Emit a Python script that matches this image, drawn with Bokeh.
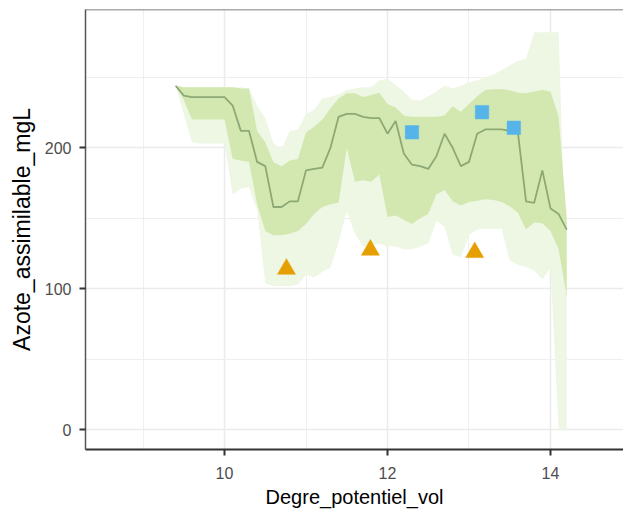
from bokeh.plotting import figure
from bokeh.models import FixedTicker, Span, Range1d
from bokeh.embed import file_html
from bokeh.resources import INLINE

# Rolling summary along Degre_potentiel_vol
x = [9.4, 9.5, 9.6, 9.7, 9.8, 9.9, 10.0, 10.1, 10.2, 10.3, 10.4, 10.5, 10.6, 10.7, 10.8, 10.9,
     11.0, 11.1, 11.2, 11.3, 11.4, 11.5, 11.6, 11.7, 11.8, 11.9, 12.0, 12.1, 12.2, 12.3, 12.4,
     12.5, 12.6, 12.7, 12.8, 12.9, 13.0, 13.1, 13.2, 13.3, 13.4, 13.5, 13.6, 13.7, 13.8, 13.9,
     14.0, 14.1, 14.2]
median = [244, 237, 236, 236, 236, 236, 236, 230, 212, 212, 190, 187, 158, 158, 162, 162,
          184, 185, 186, 200, 222, 224, 224, 222, 221, 221, 210, 219, 196, 188, 187,
          185, 194, 210, 200, 187, 190, 210, 213, 213, 213, 212, 211, 162, 161, 184,
          157, 153, 142]
inner_lo = [244, 234, 220, 220, 220, 220, 220, 192, 191, 190, 160, 141, 138, 138, 139, 141,
            146, 153, 158, 160, 161, 200, 176, 177, 176, 181, 151, 152, 149, 146, 150,
            153, 167, 170, 162, 159, 161.5, 162.5, 163.5, 163, 161.5, 158.5, 154, 142, 147, 146.5,
            141, 128, 94]
inner_hi = [244, 243, 243, 243, 243, 243, 243, 243, 242, 242, 212, 204, 190, 187, 191, 192,
            211, 215, 220, 228, 235, 238.7, 238.7, 236, 237.5, 239, 231, 228.5, 223, 222, 222,
            222, 222, 223, 229.5, 225.5, 231, 236.5, 241, 241.5, 241.7, 240.8, 239, 238.7, 240, 241,
            240, 222, 150]
outer_lo = [244, 224, 204, 203, 203, 203, 203, 167, 171, 172, 156, 104, 102, 102, 102, 103,
            110, 108, 112, 115, 133, 155, 139, 130, 131, 132, 130, 130, 128, 128, 130,
            132, 148, 144, 124, 122.5, 138, 142, 142.5, 142.5, 142.6, 120, 117, 115.5, 113, 106.5,
            115, 0, 0]
outer_hi = [244, 243, 243, 243, 243, 243, 243, 243, 243, 242, 230, 221, 203, 199, 212, 213,
            224, 227, 235, 236, 238, 241, 242, 243, 243, 248, 249, 244.5, 240, 234, 233.5,
            236.5, 240, 244, 242, 244, 246.5, 248, 250, 252, 255, 258.5, 261.5, 263, 282, 282,
            282, 282, 94]

# Observed samples
tri_x = [10.76, 11.79, 13.07]
tri_y = [114, 127.5, 125.8]
sq_x = [12.30, 13.16, 13.55]
sq_y = [211, 225.3, 214.2]

x_major = [10, 12, 14]
x_minor = [9, 11, 13, 15]
y_major = [0, 100, 200]
y_minor = [50, 150, 250]

FONT = "Liberation Sans"
Y_TOP = 298.1

p = figure(width=623, height=511,
           x_range=Range1d(8.294, 14.896), y_range=Range1d(-14.0, Y_TOP),
           output_backend="svg", toolbar_location=None,
           min_border_left=85, min_border_right=0, min_border_top=9, min_border_bottom=62,
           x_axis_label="Degre_potentiel_vol", y_axis_label="Azote_assimilable_mgL")
p.background_fill_color = "white"
p.border_fill_color = "white"
p.outline_line_color = None

p.varea(x=x, y1=outer_lo, y2=outer_hi, fill_color="#EEF6E4")
p.varea(x=x, y1=inner_lo, y2=inner_hi, fill_color="#D3E8B1")
p.line(x=x, y=median, line_color="#8DA874", line_width=1.8)
p.scatter(x=tri_x, y=tri_y, marker="triangle", size=18, fill_color="#E69F00",
          line_color="#E69F00", line_width=0.5)
p.scatter(x=sq_x, y=sq_y, marker="square", size=13.5, fill_color="#56B4E9",
          line_color="#56B4E9", line_width=0.5)

p.xaxis.ticker = FixedTicker(ticks=x_major, minor_ticks=x_minor)
p.yaxis.ticker = FixedTicker(ticks=y_major, minor_ticks=y_minor)

for g in (p.xgrid, p.ygrid):
    g.grid_line_color = "#EBEBEB"
    g.grid_line_width = 1.5
    g.minor_grid_line_color = "#EFEFEF"
    g.minor_grid_line_width = 1
    g.level = "image"

for ax in (p.xaxis, p.yaxis):
    ax.major_label_text_font = FONT
    ax.major_label_text_font_size = "16px"
    ax.major_label_text_color = "#4D4D4D"
    ax.axis_label_text_font = FONT
    ax.axis_label_text_font_style = "normal"
    ax.axis_label_text_color = "black"
    ax.major_tick_line_color = "#333333"
    ax.major_tick_line_width = 2
    ax.major_tick_out = 6
    ax.major_tick_in = 0
    ax.minor_tick_line_color = None

p.xaxis.axis_label_text_font_size = "20px"
p.yaxis.axis_label_text_font_size = "23px"
p.xaxis.axis_line_color = "#333333"
p.xaxis.axis_line_width = 2
p.yaxis.axis_line_color = "#555555"
p.yaxis.axis_line_width = 1.5
p.xaxis.major_label_standoff = 11
p.yaxis.major_label_standoff = 8
p.xaxis.axis_label_standoff = 4
p.yaxis.axis_label_standoff = 7

p.add_layout(Span(location=Y_TOP, dimension="width", line_color="#555555", line_width=1.5))

open("out.html", "w").write(file_html(p, INLINE))
